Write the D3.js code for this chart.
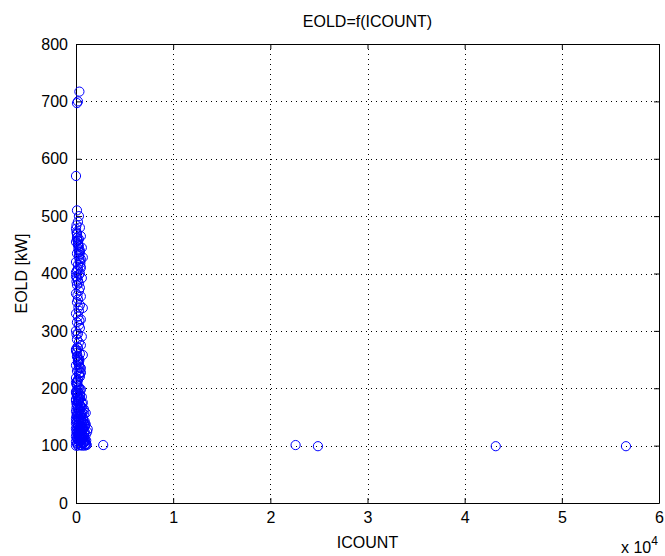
<!DOCTYPE html>
<html>
<head>
<meta charset="utf-8">
<script src="https://cdn.jsdelivr.net/npm/d3@7"></script>
<style>
  body { margin: 0; background: #fff; }
  text { font-family: "Liberation Sans", Arial, sans-serif; fill: #000; }
</style>
</head>
<body>
<script>
// Chart values
var xTicks = [0, 10000, 20000, 30000, 40000, 50000, 60000];
var xTickLabels = ["0", "1", "2", "3", "4", "5", "6"];
var yTicks = [0, 100, 200, 300, 400, 500, 600, 700, 800];

// ICOUNT values of each measured point
var icount = [
  200, 100, 350, 0, 100, 300, 200, 400, 100, 500, 300, 0, 200, 600, 400, 100,
  300, 700, 0, 200, 500, 100, 400, 300, 0, 600, 200, 100, 400, 300, 0, 500,
  200, 100, 400, 700, 300, 0, 200, 500, 100, 300, 400, 0, 200, 600, 100, 300,
  500, 200, 0, 400, 700, 100, 300, 200, 0, 500, 100, 300, 400, 200, 0, 100,
  300, 500, 200, 0, 400, 100, 600, 300, 200, 0, 700, 100, 400, 500, 200, 300,
  0, 600, 100, 800, 400, 200, 700, 0, 500, 300, 900, 100, 600, 1000, 200, 400,
  800, 0, 700, 300, 500, 900, 100, 600, 200, 1000, 400, 800, 0, 700, 300, 500,
  100, 900, 200, 600, 400, 0, 800, 300, 700, 100, 1000, 500, 200, 600, 900, 0,
  1100, 2800, 22600, 24900, 43200, 56600,
  150, 250, 450, 50, 350, 550, 150, 250, 50, 450, 650, 350, 150, 750, 250, 50,
  550, 450, 850, 150, 350, 950, 250, 650, 50, 750, 450, 150, 550, 350, 850, 250,
  50, 150, 250, 350, 450, 50, 150, 250, 350, 50, 150, 250, 450, 100, 200, 300,
  0, 100, 200, 300, 400, 500, 50, 150, 250, 350, 450, 0, 100, 200, 300, 400,
  0, 100, 200, 300, 400, 50, 150, 250, 350, 0, 100, 200, 300, 500, 50, 250,
  0, 200, 400, 600, 800, 1000, 100, 300, 500, 700, 900, 1200, 50, 250, 450, 650,
  850, 1050, 0, 200, 400, 600, 800, 150, 350, 550, 750, 950, 1150, 100, 300, 500,
  0, 150, 300, 450, 600, 750, 900, 1050, 50, 250, 450, 650, 850, 100, 400, 700
];

// EOLD values [kW] of each measured point
var eold = [
  700, 697, 717, 570, 510, 500, 490, 480, 470, 465, 460, 455, 450, 445, 440, 435,
  430, 428, 420, 415, 410, 405, 400, 398, 395, 392, 388, 380, 375, 370, 365, 360,
  355, 350, 345, 340, 335, 330, 325, 320, 315, 310, 305, 300, 295, 290, 285, 280,
  275, 270, 265, 260, 258, 255, 250, 245, 240, 235, 230, 225, 220, 215, 210, 205,
  200, 198, 195, 192, 190, 188, 185, 182, 180, 178, 175, 172, 170, 168, 165, 162,
  160, 158, 156, 155, 153, 150, 148, 147, 145, 143, 142, 140, 138, 137, 135, 133,
  132, 130, 128, 127, 125, 124, 123, 122, 120, 119, 118, 117, 116, 115, 114, 113,
  112, 111, 110, 109, 108, 107, 106, 105, 104, 103, 102, 101, 100, 100, 100, 100,
  101, 101, 101, 99, 99, 99,
  185, 176, 163, 152, 146, 139, 131, 126, 121, 117, 112, 108, 104, 129, 141, 166,
  154, 127, 122, 113, 118, 108, 136, 132, 173, 144, 197, 211, 121, 249, 139, 157,
  472, 458, 443, 426, 412, 386, 362, 341, 318, 294, 272, 246, 228, 462, 452, 438,
  478, 468, 457, 447, 437, 425, 484, 463, 449, 433, 418, 402, 393, 408, 383, 421,
  268, 262, 252, 242, 236, 266, 256, 232, 222, 218, 212, 248, 238, 227, 207, 203,
  181, 177, 171, 167, 161, 157, 151, 149, 144, 141, 134, 129, 126, 121, 116, 111,
  106, 103, 194, 186, 183, 174, 164, 169, 159, 154, 146, 136, 124, 189, 179, 134,
  139, 131, 119, 114, 109, 104, 102, 109, 143, 147, 152, 116, 114, 196, 187, 128
];

var points = icount.map(function(d, i) { return { x: d, y: eold[i] }; });

// SVG area and margins
var svgWidth = 665;
var svgHeight = 556;
var margin = { top: 44, right: 6, bottom: 53, left: 76 };
var width = svgWidth - margin.left - margin.right;
var height = svgHeight - margin.top - margin.bottom;

var svg = d3.select("body")
  .append("svg")
  .attr("width", svgWidth)
  .attr("height", svgHeight);

var chartGroup = svg.append("g")
  .attr("transform", `translate(${margin.left}, ${margin.top})`);

var xScale = d3.scaleLinear().domain([0, 60000]).range([0, width]);
var yScale = d3.scaleLinear().domain([0, 800]).range([height, 0]);

// dotted grid
chartGroup.selectAll(".vgrid")
  .data(xTicks.slice(1, -1))
  .enter().append("line")
  .attr("x1", d => Math.round(xScale(d)) + 0.5)
  .attr("x2", d => Math.round(xScale(d)) + 0.5)
  .attr("y1", 0).attr("y2", height)
  .attr("stroke", "#000").attr("stroke-width", 1)
  .attr("stroke-dasharray", "1,4");

chartGroup.selectAll(".hgrid")
  .data(yTicks.slice(1, -1))
  .enter().append("line")
  .attr("y1", d => Math.round(yScale(d)) + 0.5)
  .attr("y2", d => Math.round(yScale(d)) + 0.5)
  .attr("x1", 0).attr("x2", width)
  .attr("stroke", "#000").attr("stroke-width", 1)
  .attr("stroke-dasharray", "1,4");

// axes (ticks pointing inward, like MATLAB)
var bottomAxis = d3.axisBottom(xScale).tickValues(xTicks)
  .tickFormat((d, i) => xTickLabels[i]).tickSizeInner(-5).tickSizeOuter(0).tickPadding(9);
var leftAxis = d3.axisLeft(yScale).tickValues(yTicks).tickSizeInner(-5).tickSizeOuter(0).tickPadding(8);
var topAxis = d3.axisTop(xScale).tickValues(xTicks).tickFormat("").tickSizeInner(-5).tickSizeOuter(0);
var rightAxis = d3.axisRight(yScale).tickValues(yTicks).tickFormat("").tickSizeInner(-5).tickSizeOuter(0);

chartGroup.append("g").attr("transform", `translate(0, ${height})`).call(bottomAxis);
chartGroup.append("g").call(leftAxis);
chartGroup.append("g").call(topAxis);
chartGroup.append("g").attr("transform", `translate(${width}, 0)`).call(rightAxis);

chartGroup.selectAll(".domain").attr("stroke", "#000");
chartGroup.selectAll(".tick line").attr("stroke", "#000");
chartGroup.selectAll(".tick text").style("font-size", "16px")
  .style("font-family", "'Liberation Sans', Arial, sans-serif");

// markers
chartGroup.selectAll(".pt")
  .data(points)
  .enter().append("circle")
  .attr("class", "pt")
  .attr("cx", d => xScale(d.x))
  .attr("cy", d => yScale(d.y))
  .attr("r", 4.6)
  .attr("fill", "none")
  .attr("stroke", "#0000ff")
  .attr("stroke-width", 1);

// labels
svg.append("text")
  .attr("x", margin.left + width / 2)
  .attr("y", 27)
  .attr("text-anchor", "middle")
  .style("font-size", "16px")
  .text("EOLD=f(ICOUNT)");

svg.append("text")
  .attr("x", margin.left + width / 2)
  .attr("y", 548)
  .attr("text-anchor", "middle")
  .style("font-size", "16px")
  .text("ICOUNT");

svg.append("text")
  .attr("transform", `translate(27, ${margin.top + height / 2}) rotate(-90)`)
  .attr("text-anchor", "middle")
  .style("font-size", "16px")
  .text("EOLD [kW]");

var expo = svg.append("text")
  .attr("x", 621)
  .attr("y", 553)
  .style("font-size", "16px");
expo.append("tspan").text("x 10");
expo.append("tspan").attr("dy", -8).style("font-size", "12px").text("4");
</script>
</body>
</html>
